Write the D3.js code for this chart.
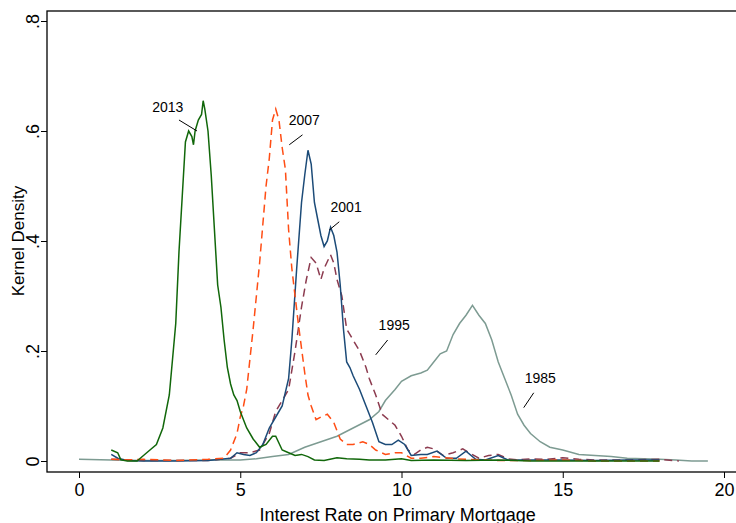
<!DOCTYPE html>
<html>
<head>
<meta charset="utf-8">
<script src="https://cdn.jsdelivr.net/npm/d3@7"></script>
<style>
  body { margin: 0; background: #fff; }
  svg { font-family: "Liberation Sans", Arial, sans-serif; }
</style>
</head>
<body>
<svg id="chart" width="736" height="523"></svg>
<script>
"use strict";
var xTicks = [0, 5, 10, 15, 20];
var yTicks = [0, 0.2, 0.4, 0.6, 0.8];
var yTickLabels = ["0", ".2", ".4", ".6", ".8"];

var d1985 = [[0,0.003],[1,0.002],[2,0.001],[3,0.001],[4,0.002],[5,0.002],[5.5,0.004],[6,0.008],[6.5,0.012],[7,0.025],[7.5,0.035],[8,0.045],[8.5,0.06],[9,0.075],[9.3,0.09],[9.5,0.11],[9.8,0.13],[10,0.145],[10.3,0.155],[10.6,0.16],[10.8,0.165],[11,0.18],[11.2,0.195],[11.4,0.2],[11.6,0.23],[11.8,0.25],[12,0.265],[12.2,0.283],[12.4,0.265],[12.6,0.25],[12.8,0.22],[13,0.18],[13.2,0.15],[13.4,0.12],[13.6,0.085],[13.8,0.065],[14,0.05],[14.3,0.035],[14.6,0.025],[15,0.02],[15.5,0.012],[16,0.01],[16.5,0.008],[17,0.005],[17.5,0.004],[18,0.003],[18.5,0.002],[19,0],[19.5,0]];
var d1995 = [[1,0.003],[2,0.001],[3,0.001],[4,0.001],[4.7,0.005],[5,0.015],[5.3,0.015],[5.6,0.02],[5.9,0.05],[6.1,0.09],[6.3,0.11],[6.5,0.13],[6.7,0.2],[6.9,0.28],[7.05,0.33],[7.2,0.37],[7.35,0.36],[7.5,0.33],[7.6,0.35],[7.8,0.375],[7.9,0.36],[8,0.33],[8.15,0.3],[8.3,0.24],[8.5,0.22],[8.7,0.2],[8.9,0.17],[9,0.15],[9.2,0.12],[9.4,0.085],[9.6,0.075],[9.8,0.065],[10,0.045],[10.2,0.02],[10.4,0.012],[10.6,0.02],[10.8,0.025],[11,0.022],[11.3,0.01],[11.6,0.015],[11.9,0.022],[12.1,0.015],[12.4,0.005],[12.7,0.01],[13,0.012],[13.3,0.004],[13.6,0.002],[14,0.004],[14.5,0.003],[15,0.006],[15.5,0.003],[16,0.002],[17,0.002],[18,0.003],[18.6,0]];
var d2001 = [[1,0.012],[1.2,0.005],[1.5,0.001],[2,0],[3,0],[4,0.001],[4.7,0.005],[4.9,0.015],[5.1,0.012],[5.3,0.01],[5.5,0.015],[5.7,0.03],[5.9,0.06],[6.1,0.08],[6.3,0.1],[6.5,0.15],[6.6,0.22],[6.75,0.35],[6.9,0.47],[7,0.52],[7.1,0.565],[7.2,0.54],[7.3,0.47],[7.4,0.44],[7.5,0.41],[7.6,0.39],[7.7,0.4],[7.8,0.425],[7.9,0.41],[8,0.38],[8.1,0.32],[8.2,0.24],[8.3,0.18],[8.4,0.17],[8.5,0.155],[8.7,0.13],[8.9,0.1],[9.1,0.07],[9.3,0.035],[9.5,0.03],[9.7,0.03],[9.9,0.038],[10.1,0.03],[10.3,0.01],[10.6,0.012],[10.8,0.012],[11.1,0.018],[11.4,0.005],[11.7,0.005],[12,0.018],[12.3,0.003],[12.6,0.002],[13,0.01],[13.3,0.002],[14,0.002],[15,0.002],[16,0.001],[17,0.002],[18,0.002]];
var d2007 = [[1,0.003],[1.5,0.002],[2,0.003],[3,0.001],[4,0.003],[4.5,0.005],[4.7,0.02],[4.9,0.05],[5,0.08],[5.1,0.1],[5.2,0.13],[5.4,0.24],[5.6,0.36],[5.8,0.5],[5.9,0.55],[6,0.62],[6.1,0.64],[6.2,0.62],[6.3,0.57],[6.4,0.53],[6.5,0.42],[6.6,0.35],[6.8,0.25],[7,0.16],[7.1,0.12],[7.2,0.1],[7.35,0.075],[7.5,0.08],[7.7,0.085],[7.9,0.07],[8.1,0.04],[8.3,0.03],[8.5,0.03],[8.8,0.035],[9,0.03],[9.2,0.02],[9.5,0.012],[9.8,0.015],[10,0.015],[10.3,0.005],[10.6,0.005],[11,0.008],[11.3,0.006],[11.7,0.004],[12,0.003],[13,0.001],[14,0.001],[15,0.002],[16,0],[17,0],[18,0]];
var d2013 = [[1,0.02],[1.2,0.015],[1.3,0.002],[1.5,0],[1.8,0],[2,0.01],[2.2,0.02],[2.4,0.03],[2.6,0.06],[2.8,0.12],[3,0.25],[3.1,0.38],[3.2,0.48],[3.3,0.58],[3.4,0.6],[3.5,0.59],[3.55,0.575],[3.6,0.6],[3.7,0.62],[3.8,0.63],[3.85,0.655],[3.9,0.64],[4,0.6],[4.1,0.52],[4.2,0.42],[4.3,0.32],[4.4,0.28],[4.5,0.22],[4.6,0.17],[4.7,0.14],[4.8,0.12],[4.9,0.11],[5,0.09],[5.2,0.06],[5.4,0.04],[5.6,0.025],[5.8,0.03],[6,0.045],[6.1,0.045],[6.3,0.02],[6.5,0.015],[6.7,0.01],[6.9,0.012],[7.1,0.008],[7.3,0.002],[7.6,0.001],[8,0.006],[8.3,0.004],[8.7,0.003],[9,0.002],[9.5,0.002],[10,0.004],[10.3,0.001],[11,0.002],[12,0.001],[13,0.002],[14,0],[15,0],[16,0],[17,0],[18,0]];

var series = [
    {name: "1985", data: d1985, color: "#7d9b92", dash: null},
    {name: "1995", data: d1995, color: "#8c3b4f", dash: "8,5"},
    {name: "2001", data: d2001, color: "#1c4b78", dash: null},
    {name: "2007", data: d2007, color: "#ff4d14", dash: "8,5"},
    {name: "2013", data: d2013, color: "#11670a", dash: null}
];
// label position (data units) and leader line from -> to
var labels = [
    {text: "2013", x: 2.27, y: 0.635, from: [3.1, 0.62], to: [3.66, 0.6]},
    {text: "2007", x: 6.5, y: 0.611, from: [6.93, 0.593], to: [6.52, 0.575]},
    {text: "2001", x: 7.8, y: 0.453, from: [8.07, 0.435], to: [7.76, 0.42]},
    {text: "1995", x: 9.29, y: 0.238, from: [9.57, 0.22], to: [9.2, 0.193]},
    {text: "1985", x: 13.82, y: 0.142, from: [14.1, 0.124], to: [13.79, 0.097]}
];

var svg = d3.select("#chart");
var frame = {left: 47, top: 11, right: 745, bottom: 472};
var x = d3.scaleLinear().domain([0, 20]).range([79, 724]);
var y = d3.scaleLinear().domain([0, 0.8]).range([461, 21]);

svg.append("rect").attr("x", frame.left).attr("y", frame.top)
    .attr("width", frame.right - frame.left).attr("height", frame.bottom - frame.top)
    .attr("fill", "none").attr("stroke", "#000").attr("stroke-width", 1.3);

var xAxis = svg.append("g").attr("transform", "translate(0," + frame.bottom + ")")
    .call(d3.axisBottom(x).tickValues(xTicks).tickSize(6).tickFormat(d3.format("d")));
xAxis.select(".domain").remove();
xAxis.selectAll("text").attr("font-size", 18).attr("fill", "#000").attr("dy", "0.85em");

var yAxis = svg.append("g").attr("transform", "translate(" + frame.left + ",0)")
    .call(d3.axisLeft(y).tickValues(yTicks).tickSize(6).tickFormat(function (d, i) { return yTickLabels[i]; }));
yAxis.select(".domain").remove();
yAxis.selectAll("text").attr("font-size", 18).attr("fill", "#000")
    .attr("x", -8).attr("y", 0).attr("dy", 0).attr("text-anchor", "middle")
    .attr("transform", "rotate(-90,-8,0)");

var line = d3.line().x(function (d) { return x(d[0]); }).y(function (d) { return y(d[1]); });
svg.append("g").selectAll("path").data(series).join("path")
    .attr("d", function (s) { return line(s.data); })
    .attr("fill", "none").attr("stroke", function (s) { return s.color; })
    .attr("stroke-width", 1.5).attr("stroke-dasharray", function (s) { return s.dash; });

var lab = svg.append("g");
labels.forEach(function (l) {
    lab.append("text").attr("x", x(l.x)).attr("y", y(l.y)).attr("font-size", 14).text(l.text);
    lab.append("line").attr("x1", x(l.from[0])).attr("y1", y(l.from[1]))
        .attr("x2", x(l.to[0])).attr("y2", y(l.to[1])).attr("stroke", "#000").attr("stroke-width", 1);
});

svg.append("text").attr("x", x(9.88)).attr("y", 521).attr("text-anchor", "middle")
    .attr("font-size", 18).text("Interest Rate on Primary Mortgage");
svg.append("text").attr("transform", "translate(24," + y(0.4) + ") rotate(-90)")
    .attr("text-anchor", "middle").attr("font-size", 17).text("Kernel Density");
</script>
</body>
</html>
